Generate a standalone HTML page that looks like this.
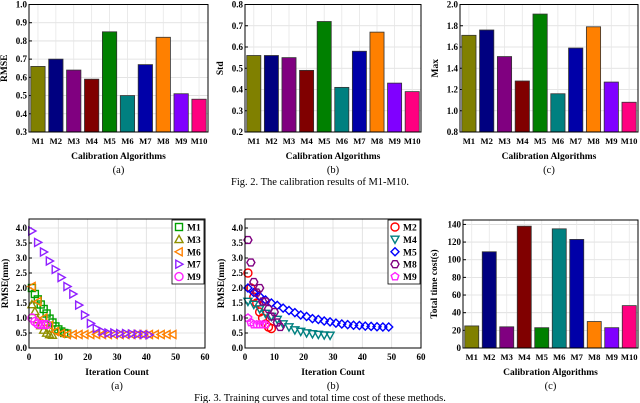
<!DOCTYPE html>
<html><head><meta charset="utf-8"><style>
body{margin:0;background:#fff;width:640px;height:403px;overflow:hidden}
svg{display:block;font-family:"Liberation Serif",serif}
</style></head><body>
<svg id="fig" width="640" height="403" viewBox="0 0 640 403"></svg>
<script>
const cats=["M1","M2","M3","M4","M5","M6","M7","M8","M9","M10"];
const colors=["#808000","#000080","#800080","#800000","#008000","#008080","#0000a8","#ff8000","#8000ff","#ff0080"];
const rmseVals=[0.66,0.70,0.64,0.59,0.85,0.50,0.67,0.82,0.51,0.48];
const stdVals=[0.56,0.56,0.55,0.49,0.72,0.41,0.58,0.67,0.43,0.39];
const maxVals=[1.71,1.76,1.51,1.28,1.91,1.16,1.59,1.79,1.27,1.08];
const timeVals=[25,109,24,138,23,135,123,30,23,48];
const rmseTicks=[0.3,0.4,0.5,0.6,0.7,0.8,0.9,1.0];
const stdTicks=[0.2,0.3,0.4,0.5,0.6,0.7,0.8];
const maxTicks=[0.8,1.0,1.2,1.4,1.6,1.8,2.0];
const timeTicks=[0,20,40,60,80,100,120,140];
const iterTicks=[0,10,20,30,40,50,60];
const curveTicks=[0.0,0.5,1.0,1.5,2.0,2.5,3.0,3.5,4.0];
// curves (a)
const a_M1x=[1,2,3,4,5,6,7,8,9,10,11,12,13];
const a_M1y=[2.0,1.8,1.62,1.45,1.3,1.15,0.98,0.85,0.72,0.62,0.55,0.5,0.48];
const a_M3x=[1,2,3,4,5,6,7,8];
const a_M3y=[1.45,1.22,0.95,0.75,0.6,0.5,0.45,0.43];
const a_M6x=[1,3,5,7,9,11,13,15,17,19,21,23,25,27,29,31,33,35,37,39,41,43,45,47,49];
const a_M6y=[2.05,1.55,1.0,0.75,0.55,0.48,0.45,0.45,0.45,0.45,0.45,0.45,0.45,0.45,0.45,0.45,0.45,0.45,0.45,0.45,0.45,0.45,0.45,0.45,0.45];
const a_M7x=[1,3,5,7,9,11,13,15,17,19,21,23,25,27,29,31,33,35,37,39,41];
const a_M7y=[3.9,3.52,3.2,2.9,2.62,2.35,2.05,1.8,1.43,1.1,0.82,0.65,0.55,0.5,0.5,0.48,0.48,0.47,0.46,0.45,0.44];
const a_M9x=[1,2,3,4,5,6];
const a_M9y=[1.0,0.88,0.8,0.78,0.78,0.78];
// curves (b)
const b_M2x=[1,2,3,4,5,6,7,8,9];
const b_M2y=[2.5,2.0,1.7,1.5,1.2,1.0,0.8,0.7,0.65];
const b_M4x=[1,3,5,7,9,11,13,15,17,19,21,23,25,27,29];
const b_M4y=[1.55,1.45,1.3,1.15,1.05,0.95,0.8,0.7,0.6,0.55,0.5,0.47,0.45,0.43,0.42];
const b_M5x=[1,3,5,7,9,11,13,15,17,19,21,23,25,27,29,31,33,35,37,39,41,43,45,47,49];
const b_M5y=[2.0,1.85,1.72,1.6,1.5,1.42,1.33,1.25,1.18,1.1,1.05,0.98,0.95,0.9,0.87,0.83,0.8,0.78,0.76,0.75,0.73,0.72,0.71,0.7,0.7];
const b_M8x=[1,2,3,4,5,6,7,8,9,10,11,12];
const b_M8y=[3.6,2.85,2.2,1.85,2.0,1.55,1.55,1.3,1.05,1.2,0.85,0.7];
const b_M9x=[1,2,3,4,5,6,7];
const b_M9y=[1.0,0.85,0.78,0.78,0.78,0.78,0.78];

const NS="http://www.w3.org/2000/svg";
const svg=document.getElementById('fig');
function el(tag,attrs,parent,text){const e=document.createElementNS(NS,tag);for(const k in attrs)e.setAttribute(k,attrs[k]);if(text!==undefined)e.textContent=text;(parent||svg).appendChild(e);return e;}
function txt(x,y,s,opt,parent){return el('text',Object.assign({x:x,y:y,'font-size':9,'text-anchor':'middle','font-weight':'bold',fill:'#000'},opt||{}),parent,s);}

function axesFrame(g,L,R,T,B,ticks,yMin,yMax,dec,ylabel,xlabel,sub,titleOff){
  const ys=v=>B-(v-yMin)/(yMax-yMin)*(B-T);
  for(const t of ticks){const y=ys(t);
    const gl=el('line',{x1:L,x2:R,y1:y,y2:y,stroke:'#dcdcdc','stroke-width':0.8},g);
    
    el('line',{x1:L,x2:L+3,y1:y,y2:y,stroke:'#000'},g);
    const tl=txt(L-2,y+3,t.toFixed(dec),{'text-anchor':'end'},g);
    
  }
  const yl=txt(0,0,ylabel,{transform:`translate(${L-titleOff},${(T+B)/2}) rotate(-90)`,'font-size':9.5},g);
  
  const xl=txt((L+R)/2,B+27,xlabel,{'font-size':9.5},g);
  
  const sl=txt((L+R)/2,B+41,sub,{'font-weight':'normal','font-size':10.5},g);
  
  return ys;
}
function barChart(name,L,R,T,B,vals,ticks,yMax,dec,ylabel,sub,titleOff){
  const g=el('g',{});
  
  const yMin=ticks[0];
  const ys=axesFrame(g,L,R,T,B,ticks,yMin,yMax,dec,ylabel,'Calibration Algorithms',sub,titleOff);
  const step=(R-L)/cats.length;
  cats.forEach((c,i)=>{const cx=L+step*(i+0.5);
    el('line',{x1:cx,x2:cx,y1:T,y2:B,stroke:'#e6e6e6','stroke-width':0.8},g);
    const bw=step*0.8, y=ys(vals[i]);
    const r=el('rect',{x:cx-bw/2,y:y,width:bw,height:B-y,fill:colors[i],stroke:'#333','stroke-width':0.8},g);
    
    const tl=txt(cx,B+12,c,{'font-size':8.6},g);
    
  });
  const fr=el('rect',{x:L,y:T,width:R-L,height:B-T,fill:'none',stroke:'#000','stroke-width':1},g);
  
}
barChart('rmse-bar-chart',29,208,4.5,132,rmseVals,rmseTicks,1.0,1,'RMSE','(a)',22);
barChart('std-bar-chart',245,421,4.5,132,stdVals,stdTicks,0.8,1,'Std','(b)',22);
barChart('max-bar-chart',460,638,4.5,132,maxVals,maxTicks,2.0,1,'Max','(c)',22);
const c2=txt(320,185,'Fig. 2.  The calibration results of M1-M10.',{'font-weight':'normal','font-size':10.5});


function marker(g,shape,x,y,col){
  const s=4;let e;
  if(shape==='sq')e=el('rect',{x:x-s+0.5,y:y-s+0.5,width:2*s-1,height:2*s-1},g);
  else if(shape==='circ')e=el('circle',{cx:x,cy:y,r:s},g);
  else{let p;
    if(shape==='up')p=[[x,y-s],[x+s,y+s*0.8],[x-s,y+s*0.8]];
    if(shape==='down')p=[[x,y+s],[x+s,y-s*0.8],[x-s,y-s*0.8]];
    if(shape==='left')p=[[x-s,y],[x+s*0.8,y-s],[x+s*0.8,y+s]];
    if(shape==='right')p=[[x+s,y],[x-s*0.8,y-s],[x-s*0.8,y+s]];
    if(shape==='dia')p=[[x,y-s],[x+s,y],[x,y+s],[x-s,y]];
    if(shape==='pent'){p=[];for(let k=0;k<5;k++){const a=-Math.PI/2+k*2*Math.PI/5;p.push([x+s*Math.cos(a),y+s*Math.sin(a)]);}}
    if(shape==='hex'){p=[];for(let k=0;k<6;k++){const a=k*Math.PI/3;p.push([x+s*Math.cos(a),y+s*Math.sin(a)]);}}
    e=el('polygon',{points:p.map(q=>q.join(',')).join(' ')},g);}
  e.setAttribute('fill','none');e.setAttribute('stroke',col);e.setAttribute('stroke-width',1.4);
  return e;
}
function curveChart(name,L,R,T,B,series,sub){
  const g=el('g',{});
  
  const yMax=4.3;
  const ys=axesFrame(g,L,R,T,B,curveTicks,0,yMax,1,'RMSE(mm)','Iteration Count',sub,21);
  const xs=v=>L+v/60*(R-L);
  for(const t of iterTicks){const x=xs(t);
    el('line',{x1:x,x2:x,y1:T,y2:B,stroke:'#dcdcdc','stroke-width':0.8},g);
    const tl=txt(x,B+12,String(t),{},g);
    }
  for(const s of series){
    const sg=el('g',{},g);
    
    s.x.forEach((xv,i)=>{const m=marker(sg,s.shape,xs(xv),ys(s.y[i]),s.col);
      });
  }
  const fr=el('rect',{x:L,y:T,width:R-L,height:B-T,fill:'none',stroke:'#000','stroke-width':1},g);
  
  const lg=el('g',{},g);
  
  const lx=R-33,ly=T+1;
  el('rect',{x:lx,y:ly,width:32,height:64,fill:'#fff',stroke:'#000','stroke-width':0.8},lg);
  series.forEach((s,i)=>{const y=ly+7+i*12.4;
    const eg=el('g',{},lg);
    
    marker(eg,s.shape,lx+7,y,s.col);
    txt(lx+15,y+3.5,s.name,{'text-anchor':'start','font-size':9.5},eg);});
}
curveChart('training-curves-a',29,205,219,348,[
 {name:'M1',x:a_M1x,y:a_M1y,shape:'sq',col:'#00a000'},
 {name:'M3',x:a_M3x,y:a_M3y,shape:'up',col:'#909000'},
 {name:'M6',x:a_M6x,y:a_M6y,shape:'left',col:'#ff8000'},
 {name:'M7',x:a_M7x,y:a_M7y,shape:'right',col:'#9020ff'},
 {name:'M9',x:a_M9x,y:a_M9y,shape:'circ',col:'#ff20ff'}],'(a)');
curveChart('training-curves-b',245,421,219,348,[
 {name:'M2',x:b_M2x,y:b_M2y,shape:'circ',col:'#ff0000'},
 {name:'M4',x:b_M4x,y:b_M4y,shape:'down',col:'#008080'},
 {name:'M5',x:b_M5x,y:b_M5y,shape:'dia',col:'#0000ff'},
 {name:'M8',x:b_M8x,y:b_M8y,shape:'hex',col:'#800080'},
 {name:'M9',x:b_M9x,y:b_M9y,shape:'pent',col:'#ff20ff'}],'(b)');
barChart('time-bar-chart',463,638,220,348,timeVals,timeTicks,145,0,'Total time cost(s)','(c)',26);
const c3=txt(320,401,'Fig. 3.  Training curves and total time cost of these methods.',{'font-weight':'normal','font-size':10.5});

</script>
</body></html>
